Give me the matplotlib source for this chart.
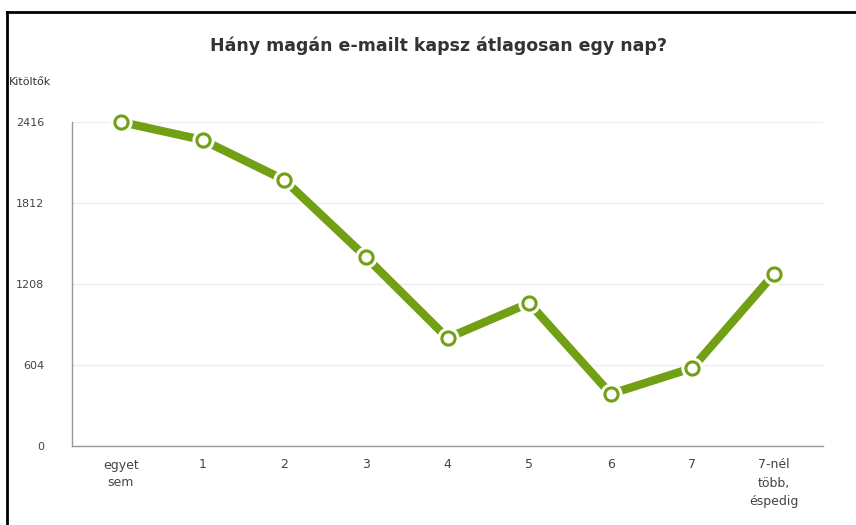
import matplotlib
matplotlib.use("Agg")
import matplotlib.pyplot as plt
from matplotlib.lines import Line2D

categories = ["egyet\nsem", "1", "2", "3", "4", "5", "6", "7", "7-nél\ntöbb,\néspedig"]
values = [2416, 2282, 1984, 1409, 805, 1066, 388, 582, 1283]
yticks = [0, 604, 1208, 1812, 2416]
title = "Hány magán e-mailt kapsz átlagosan egy nap?"
ylabel = "Kitöltők"

green = "#72a014"

fig = plt.figure(figsize=(8.56, 5.25), dpi=100)
ax = fig.add_axes([72/856, 1-446/525, (823-72)/856, (446-122)/525])

x = list(range(len(categories)))
ax.plot(x, values, color=green, lw=6, solid_capstyle="butt", zorder=3, clip_on=False)
ax.plot(x, values, ls="none", marker="o", ms=12, mfc="white", mec="white",
        mew=4, zorder=4, clip_on=False)
ax.plot(x, values, ls="none", marker="o", ms=9.5, mfc="white", mec=green,
        mew=2.2, zorder=5, clip_on=False)

ax.set_xlim(-0.6, 8.6)
ax.set_ylim(0, 2416)
ax.set_xticks(x)
ax.set_xticklabels(categories, fontsize=9, color="#444444", linespacing=1.5)
ax.set_yticks(yticks)
ax.set_yticklabels([str(v) for v in yticks], fontsize=8, color="#444444")
ax.tick_params(axis="both", length=0)
ax.tick_params(axis="y", pad=20)
ax.tick_params(axis="x", pad=9)
ax.grid(axis="y", color="#eeeeee", lw=1)
ax.set_axisbelow(True)
for s in ["top", "right"]:
    ax.spines[s].set_visible(False)
for s in ["left", "bottom"]:
    ax.spines[s].set_color("#999999")
    ax.spines[s].set_linewidth(1)

fig.text(439/856, 1-46/525, title, ha="center", va="center", fontsize=12.5,
         fontweight="bold", color="#333333")
fig.text(9/856, 1-82/525, ylabel, ha="left", va="center", fontsize=8, color="#333333")

# frame lines (left and top)
fig.add_artist(Line2D([7/856, 7/856], [0, 1-12/525], transform=fig.transFigure,
                      color="black", lw=2))
fig.add_artist(Line2D([7/856, 1], [1-12/525, 1-12/525], transform=fig.transFigure,
                      color="black", lw=2))

fig.savefig("out.png", dpi=100)
